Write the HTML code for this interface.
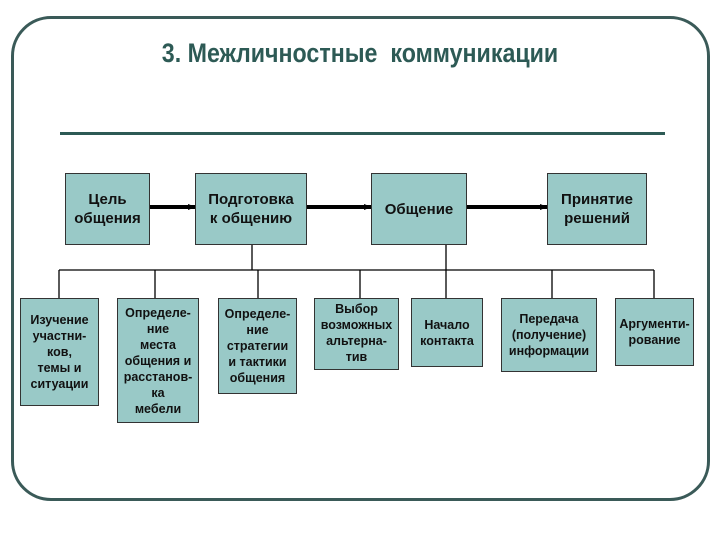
<!DOCTYPE html>
<html><head><meta charset="utf-8"><style>
body{margin:0;width:720px;height:540px;background:#fff;position:relative;overflow:hidden;font-family:"Liberation Sans",Arial,sans-serif}
.frame{position:absolute;left:11px;top:16px;width:693px;height:479px;border:3px solid #3a5a58;border-radius:40px}
.title{position:absolute;left:0;width:720px;top:38px;text-align:center;font-size:27px;font-weight:bold;color:#2d5a55;transform:scaleX(0.86);letter-spacing:0px;white-space:pre}
.hl{position:absolute;left:60px;top:132px;width:605px;height:3px;background:#2d5a55}
.b{position:absolute;background:#99c9c7;border:1px solid #333;box-sizing:border-box;display:flex;align-items:center;justify-content:center;text-align:center;font-weight:bold;color:#111}
.top{font-size:15px;line-height:19px}
.bot{font-size:12.5px;line-height:16px}
</style></head><body>
<div class="frame"></div>
<div class="title">3. Межличностные  коммуникации</div>
<div class="hl"></div>
<svg width="720" height="540" style="position:absolute;left:0;top:0">
<defs><marker id="a" markerWidth="8" markerHeight="8" refX="7" refY="4" orient="auto" markerUnits="userSpaceOnUse"><path d="M0,1 L8,4 L0,7z" fill="#000"/></marker></defs>
<g stroke="#000" stroke-width="4" marker-end="url(#a)">
<line x1="150" y1="207" x2="195" y2="207"/>
<line x1="307" y1="207" x2="371" y2="207"/>
<line x1="467" y1="207" x2="547" y2="207"/>
</g>
<g stroke="#000" stroke-width="1.3">
<line x1="59" y1="270" x2="654" y2="270"/>
<line x1="252" y1="245" x2="252" y2="270"/>
<line x1="446" y1="245" x2="446" y2="298"/>
<line x1="59" y1="270" x2="59" y2="298"/>
<line x1="155" y1="270" x2="155" y2="298"/>
<line x1="258" y1="270" x2="258" y2="298"/>
<line x1="360" y1="270" x2="360" y2="298"/>
<line x1="552" y1="270" x2="552" y2="298"/>
<line x1="654" y1="270" x2="654" y2="298"/>
</g>
</svg>
<div class="b top" style="left:65px;top:173px;width:85px;height:72px">Цель<br>общения</div>
<div class="b top" style="left:195px;top:173px;width:112px;height:72px">Подготовка<br>к общению</div>
<div class="b top" style="left:371px;top:173px;width:96px;height:72px">Общение</div>
<div class="b top" style="left:547px;top:173px;width:100px;height:72px">Принятие<br>решений</div>
<div class="b bot" style="left:20px;top:298px;width:79px;height:108px">Изучение<br>участни-<br>ков,<br>темы и<br>ситуации</div>
<div class="b bot" style="left:117px;top:298px;width:82px;height:125px">Определе-<br>ние<br>места<br>общения и<br>расстанов-<br>ка<br>мебели</div>
<div class="b bot" style="left:218px;top:298px;width:79px;height:96px">Определе-<br>ние<br>стратегии<br>и тактики<br>общения</div>
<div class="b bot" style="left:314px;top:298px;width:85px;height:72px;align-items:flex-start;padding-top:2px">Выбор<br>возможных<br>альтерна-<br>тив</div>
<div class="b bot" style="left:411px;top:298px;width:72px;height:69px">Начало<br>контакта</div>
<div class="b bot" style="left:501px;top:298px;width:96px;height:74px">Передача<br>(получение)<br>информации</div>
<div class="b bot" style="left:615px;top:298px;width:79px;height:68px">Аргументи-<br>рование</div>
</body></html>
